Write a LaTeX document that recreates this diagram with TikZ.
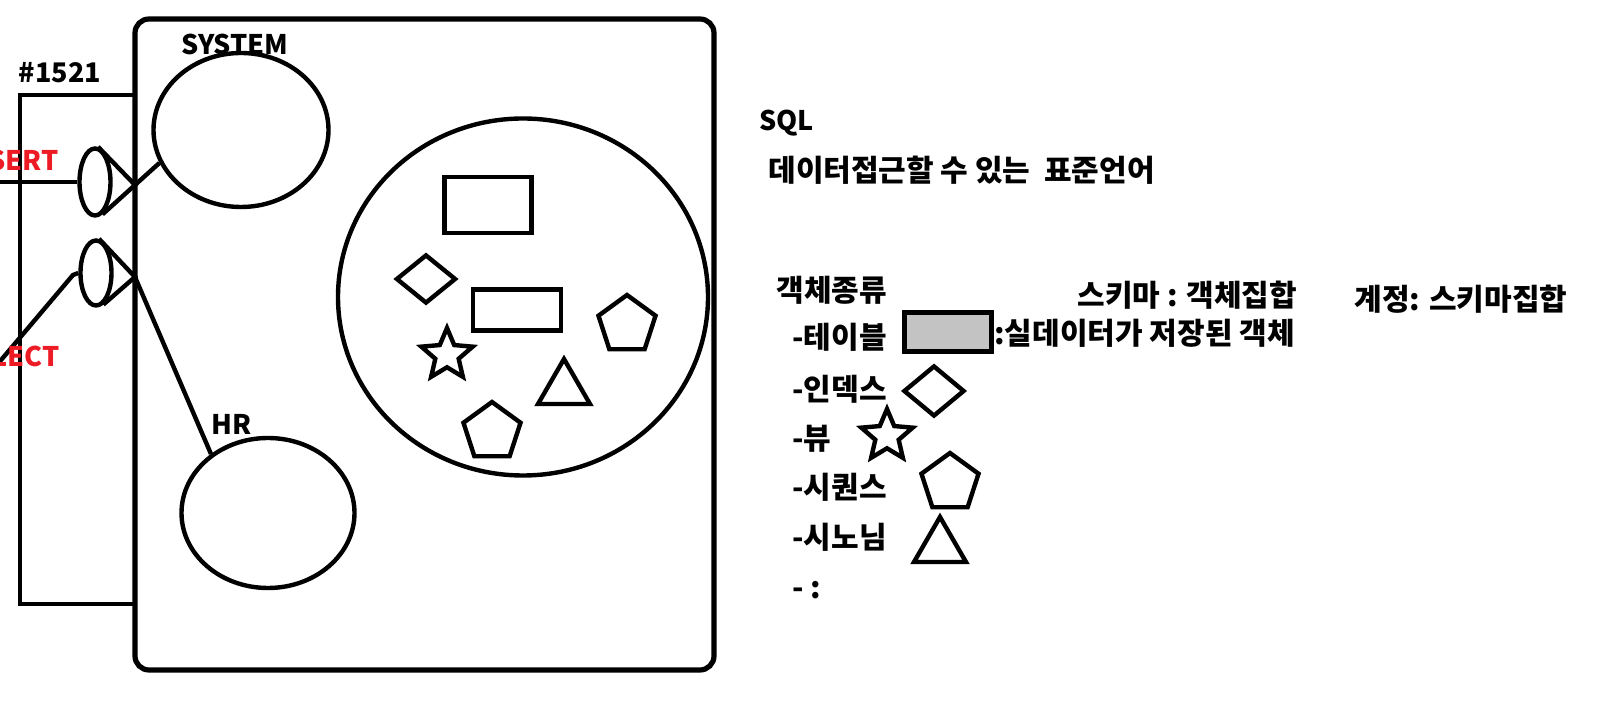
\documentclass[tikz,border=0pt]{standalone}
\usepackage{fontspec}
\setmainfont{Noto Sans CJK KR}
\usetikzlibrary{shapes.geometric}
\definecolor{paintred}{RGB}{237,28,36}
\definecolor{paintgray}{RGB}{195,195,195}
\tikzset{
    pen/.style={line width=2.2pt},
    txt/.style={font=\bfseries\fontsize{13.5}{16}\selectfont, inner sep=0pt},
    kor/.style={txt, font=\bfseries\fontsize{15}{18}\selectfont, anchor=west},
    shp/.style={pen, draw, inner sep=0pt},
    pentagon/.style={shp, regular polygon, regular polygon sides=5},
    tri/.style={shp, regular polygon, regular polygon sides=3},
    starshp/.style={shp, star, star points=5, star point ratio=2.2}
}
\begin{document}
\begin{tikzpicture}[x=0.5pt,y=-0.5pt]
        % Define dimensions
        \def\px{0.5pt}
        \useasboundingbox (0,0) rectangle (1624,710);
        % Draw server box and listener port box
        \draw[pen, line width=2.6pt, rounded corners=7pt] (135,19) rectangle (714,670);
        \draw[pen] (135,95) -- (20,95) -- (20,604) -- (135,604);
        \node[txt] (portlabel) at (60,73) {\#1521};
        % Users (schemas)
        \node[shp, ellipse, minimum width=175*\px, minimum height=154*\px] (system) at (241,130) {};
        \node[txt] (systemlabel) at (235,44) {SYSTEM};
        \node[shp, ellipse, minimum width=173*\px, minimum height=150*\px] (hr) at (268,513) {};
        \node[txt] (hrlabel) at (232,424) {HR};
        % Ports with requests
        \node[shp, ellipse, minimum width=31*\px, minimum height=67*\px] (insertport) at (95,182) {};
        \node[shp, ellipse, minimum width=31*\px, minimum height=65*\px] (selectport) at (96,273) {};
        \coordinate (insertapex) at (135,185);
        \coordinate (selectapex) at (135,277);
        \draw[pen] (insertport.85) -- (insertapex) -- (insertport.-77);
        \draw[pen] (selectport.85) -- (selectapex) -- (selectport.-77);
        \coordinate (insertend) at (-4,182);
        \coordinate (selectend) at (-4,366);
        \coordinate (selectbend) at (73,275);
        \draw[pen] (insertend) -- (insertport.west);
        \draw[pen] (selectend) -- (selectbend) -- (selectport.west);
        \draw[pen] (insertapex) -- (system.202);
        \draw[pen] (selectapex) -- (hr.134);
        \node[txt, text=paintred, anchor=east] (insertlabel) at (59,160) {INSERT};
        \node[txt, text=paintred, anchor=east] (selectlabel) at (60,356) {SELECT};
        % Schema with objects
        \node[shp, ellipse, minimum width=370*\px, minimum height=357*\px] (schema) at (523,297) {};
        \node[shp, minimum width=87*\px, minimum height=56*\px] (table1) at (488,205) {};
        \node[shp, minimum width=88*\px, minimum height=41*\px] (table2) at (517,310) {};
        \node[shp, diamond, minimum width=60*\px, minimum height=49*\px] (index1) at (426,279) {};
        \node[pentagon, minimum size=60*\px] (seq1) at (627,325) {};
        \node[pentagon, minimum size=60*\px] (seq2) at (492,432) {};
        \node[starshp, minimum size=54*\px] (view1) at (447,355) {};
        \node[tri, minimum size=60*\px] (syn1) at (564,389) {};
        % SQL notes
        \node[txt, anchor=west] (sqltitle) at (759,123) {SQL};
        \node[kor] (sqldesc) at (768,170) {데이터접근할 수 있는\ \ 표준언어};
        \node[kor] (kinds) at (776,290) {객체종류};
        \node[kor] (schemadesc) at (1077,295) {스키마 : 객체집합};
        \node[kor] (accountdesc) at (1354,299) {계정: 스키마집합};
        % Object kinds with keys
        \foreach \i/\name/\y in {1/-테이블/337, 2/-인덱스/389, 3/-뷰/439, 4/-시퀀스/487, 5/-시노님/537, 6/- :/590}
            \node[kor] (kind\i) at (792,\y) {\name};
        \node[shp, fill=paintgray, minimum width=87*\px, minimum height=39*\px] (tablekey) at (948,332) {};
        \node[kor] (tablenote) at (994,333) {:실데이터가 저장된 객체};
        \node[shp, diamond, minimum width=61*\px, minimum height=51*\px] (indexkey) at (934,391) {};
        \node[starshp, minimum size=54*\px] (viewkey) at (887,436) {};
        \node[pentagon, minimum size=60*\px] (seqkey) at (950,483) {};
        \node[tri, minimum size=60*\px] (synkey) at (940,547) {};
    \end{tikzpicture}
\end{document}
